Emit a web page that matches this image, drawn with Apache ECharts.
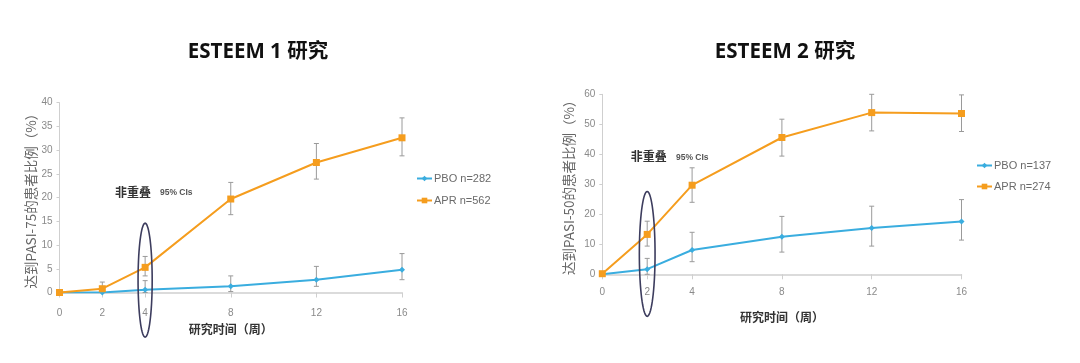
<!DOCTYPE html>
<html><head><meta charset="utf-8">
<script src="https://cdn.jsdelivr.net/npm/echarts@6/dist/echarts.min.js"></script>
<style>html,body{margin:0;padding:0;background:#fff}#c{width:1080px;height:363px}</style>
</head><body><div id="c"></div>
<script>
// ---- data ----
const weeks = [0, 2, 4, 8, 12, 16];
const xTicks = [0, 2, 4, 8, 12, 16];

// ESTEEM 1 (PASI-75)
const pbo1 = [0, 0, 0.6, 1.3, 2.7, 4.8];
const pbo1Lo = [0, 0, 0, 0.2, 1.3, 2.7];
const pbo1Hi = [0, 0, 2.5, 3.5, 5.5, 8.2];
const apr1 = [0, 0.8, 5.3, 19.7, 27.4, 32.6];
const apr1Lo = [0, 0, 3.5, 16.4, 23.9, 28.8];
const apr1Hi = [0, 2.2, 7.6, 23.2, 31.4, 36.8];

// ESTEEM 2 (PASI-50)
const pbo2 = [0, 1.7, 8.1, 12.5, 15.4, 17.6];
const pbo2Lo = [0, 0, 4.2, 7.4, 9.4, 11.4];
const pbo2Hi = [0, 5.3, 14.0, 19.3, 22.7, 24.9];
const apr2 = [0.2, 13.3, 29.7, 45.6, 53.9, 53.6];
const apr2Lo = [0.2, 9.4, 24.0, 39.4, 47.8, 47.6];
const apr2Hi = [0.2, 17.7, 35.5, 51.7, 60.0, 59.8];

const titles = ['ESTEEM 1 研究', 'ESTEEM 2 研究'];
const yNames = ['达到PASI-75的患者比例（%）', '达到PASI-50的患者比例（%）'];
const xName = '研究时间（周）';
const legend1 = ['PBO n=282', 'APR n=562'];
const legend2 = ['PBO n=137', 'APR n=274'];
const annoMain = '非重叠';
const annoSub = '95% CIs';
// highlighted week (ellipse) per chart: [week, centerValue, halfHeightValue, halfWidthWeeks]
const ellipse1 = [4, 2.6, 12.0, 0.33];
const ellipse2 = [2, 6.8, 20.8, 0.35];

// ---- styles ----
const ORANGE = '#F59D1E';
const BLUE = '#3AADDF';
const AXIS = '#cfcfcf';
const LBL = '#8a8a8a';
const NUMFONT = '"Liberation Sans", Arial, sans-serif';
const CJK = '"Noto Sans CJK SC", sans-serif';
const TITLEFONT = '"Open Sans", "Noto Sans CJK SC", sans-serif';

const chart = echarts.init(document.getElementById('c'));

function pairs(ys) { return weeks.map((w, i) => [w, ys[i]]); }
function errData(lo, hi) { return weeks.map((w, i) => [w, lo[i], hi[i]]).filter(d => d[2] > d[1]); }

function errSeries(lo, hi, gi) {
  return {
    type: 'custom', xAxisIndex: gi, yAxisIndex: gi, z: 1, silent: true,
    data: errData(lo, hi),
    encode: { x: 0, y: [1, 2] },
    renderItem: function (params, api) {
      const x = api.value(0);
      const a = api.coord([x, api.value(1)]);
      const b = api.coord([x, api.value(2)]);
      const cw = 2.5;
      const st = { stroke: '#9a9a9a', lineWidth: 1 };
      return {
        type: 'group', children: [
          { type: 'line', shape: { x1: a[0], y1: a[1], x2: b[0], y2: b[1] }, style: st },
          { type: 'line', shape: { x1: a[0] - cw, y1: a[1], x2: a[0] + cw, y2: a[1] }, style: st },
          { type: 'line', shape: { x1: b[0] - cw, y1: b[1], x2: b[0] + cw, y2: b[1] }, style: st }
        ]
      };
    }
  };
}

function ellipseSeries(e, gi) {
  return {
    type: 'custom', xAxisIndex: gi, yAxisIndex: gi, z: 5, silent: true, clip: false,
    data: [e],
    renderItem: function (params, api) {
      const c = api.coord([api.value(0), api.value(1)]);
      const t = api.coord([api.value(0), api.value(1) + api.value(2)]);
      const r = api.coord([api.value(0) + api.value(3), api.value(1)]);
      const ry = c[1] - t[1], rx = r[0] - c[0];
      const pts = [];
      for (let k = 0; k <= 72; k++) {
        const ang = k / 72 * Math.PI * 2;
        pts.push([c[0] + rx * Math.cos(ang), c[1] + ry * Math.sin(ang)]);
      }
      return { type: 'polyline', shape: { points: pts }, style: { stroke: '#3d3d5e', lineWidth: 1.6, fill: null } };
    }
  };
}

function lineSeries(name, ys, color, sym, size, gi) {
  return {
    name: name, type: 'line', xAxisIndex: gi, yAxisIndex: gi, z: 3,
    data: pairs(ys), symbol: sym, symbolSize: size, showSymbol: true,
    lineStyle: { color: color, width: 2 }, itemStyle: { color: color },
    animation: false
  };
}

function xAxis(gi, gap, margin) {
  return {
    type: 'value', gridIndex: gi, min: 0, max: 16, interval: 2,
    name: xName, nameLocation: 'middle', nameGap: gap,
    nameTextStyle: { fontFamily: CJK, fontSize: 12, fontWeight: 'bold', color: '#333' },
    axisLine: { show: true, lineStyle: { color: AXIS, width: 1.5 } },
    axisTick: { show: true, customValues: xTicks, length: 5, lineStyle: { color: AXIS } },
    axisLabel: { customValues: xTicks, margin: margin, color: LBL, fontSize: 10, fontFamily: NUMFONT },
    splitLine: { show: false }
  };
}
function yAxis(gi, max, interval, gap) {
  return {
    type: 'value', gridIndex: gi, min: 0, max: max, interval: interval,
    name: yNames[gi], nameLocation: 'middle', nameGap: gap, nameRotate: 90,
    nameTextStyle: { fontFamily: CJK, fontSize: 13.5, color: '#666' },
    axisLine: { show: true, lineStyle: { color: AXIS, width: 1 } },
    axisTick: { show: true, length: 3, lineStyle: { color: AXIS } },
    axisLabel: { margin: 7, color: LBL, fontSize: 10, fontFamily: NUMFONT },
    splitLine: { show: false }
  };
}

const option = {
  animation: false,
  backgroundColor: '#fff',
  title: [
    { text: titles[0], left: 258, top: 42, padding: 0, textAlign: 'center', textStyle: { fontFamily: TITLEFONT, fontSize: 20.5, fontWeight: 'bold', color: '#111' } },
    { text: titles[1], left: 785, top: 42, padding: 0, textAlign: 'center', textStyle: { fontFamily: TITLEFONT, fontSize: 20.5, fontWeight: 'bold', color: '#111' } }
  ],
  legend: [
    { data: legend1, left: 411, top: 168, orient: 'vertical', itemGap: 11, itemWidth: 15, itemHeight: 7,
      textStyle: { color: '#6a6a6a', fontSize: 11, fontFamily: NUMFONT, padding: [0, 0, 0, -3] } },
    { data: legend2, left: 971, top: 155, orient: 'vertical', itemGap: 10, itemWidth: 15, itemHeight: 7,
      textStyle: { color: '#6a6a6a', fontSize: 11, fontFamily: NUMFONT, padding: [0, 0, 0, -3] } }
  ],
  grid: [
    { left: 59.5, right: 678, top: 102.7, bottom: 70.5 },
    { left: 602.3, right: 118.5, top: 94.3, bottom: 88.7 }
  ],
  xAxis: [xAxis(0, 31, 16), xAxis(1, 37, 13)],
  yAxis: [yAxis(0, 40, 5, 21), yAxis(1, 60, 10, 27)],
  graphic: [
    { type: 'text', left: 115, top: 186, style: { text: annoMain, font: 'bold 12px ' + CJK, fill: '#333' } },
    { type: 'text', left: 160, top: 188.5, style: { text: annoSub, font: 'bold 8.5px ' + NUMFONT, fill: '#555' } },
    { type: 'text', left: 630.7, top: 150.3, style: { text: annoMain, font: 'bold 12px ' + CJK, fill: '#333' } },
    { type: 'text', left: 676, top: 153.5, style: { text: annoSub, font: 'bold 8.5px ' + NUMFONT, fill: '#555' } }
  ],
  series: [
    errSeries(pbo1Lo, pbo1Hi, 0),
    errSeries(apr1Lo, apr1Hi, 0),
    lineSeries(legend1[0], pbo1, BLUE, 'diamond', 6, 0),
    lineSeries(legend1[1], apr1, ORANGE, 'rect', 7, 0),
    ellipseSeries(ellipse1, 0),
    errSeries(pbo2Lo, pbo2Hi, 1),
    errSeries(apr2Lo, apr2Hi, 1),
    lineSeries(legend2[0], pbo2, BLUE, 'diamond', 6, 1),
    lineSeries(legend2[1], apr2, ORANGE, 'rect', 7, 1),
    ellipseSeries(ellipse2, 1)
  ]
};
chart.setOption(option);
</script></body></html>
